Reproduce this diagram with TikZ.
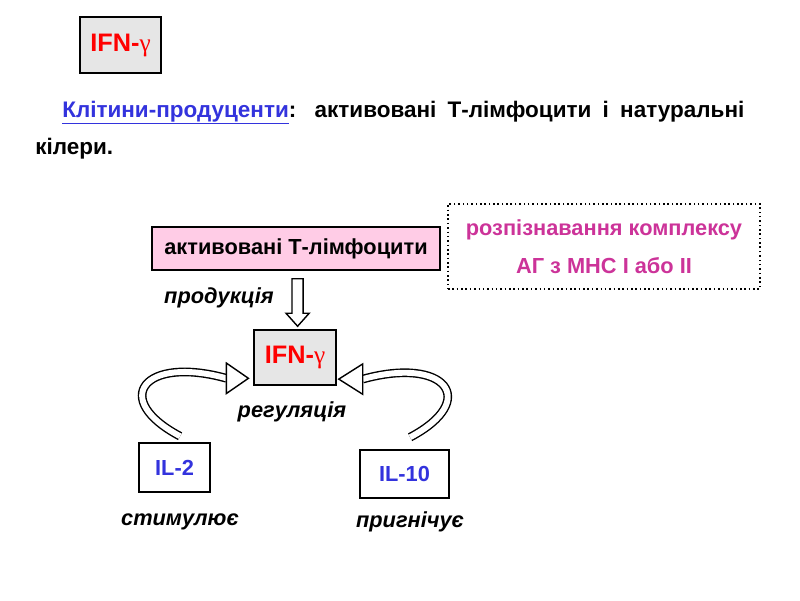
\documentclass[tikz,border=0pt]{standalone}
\usepackage{fontspec}
\setmainfont{Liberation Sans}
\newfontfamily\greekfont{Liberation Serif}
\usepackage{xcolor}
\usepackage{tikz}
\usetikzlibrary{calc}

\definecolor{cellpink}{RGB}{255,204,230}
\definecolor{cellgray}{RGB}{230,230,230}
\definecolor{ilblue}{RGB}{51,51,221}
\definecolor{agmagenta}{RGB}{204,51,153}

\newcommand{\ifng}{IFN-{\greekfont\mdseries γ}}

\begin{document}
\begin{tikzpicture}[every node/.style={font=\bfseries\fontsize{15.5}{19}\selectfont},
    box/.style={draw, rectangle, line width=1.1pt, inner sep=0pt, text centered},
    lbl/.style={font=\bfseries\itshape\fontsize{15.5}{19}\selectfont},
    band/.style={double=white, double distance=4.2pt, line width=1pt},
    head/.style={draw, fill=white, line width=1pt, line join=miter}]

    \useasboundingbox (0,0) rectangle (20,-15);

    % Define nodes
    \node (topifn) [box, fill=cellgray, minimum width=2.025cm, minimum height=1.4cm,
        text=red, font=\bfseries\fontsize{18}{20}\selectfont] at (3.0125,-1.125) {\ifng};

    \node (cells) [anchor=base west, text width=17.725cm, align=justify, inner sep=0pt,
        font=\bfseries\fontsize{16}{27}\selectfont] at (0.875,-2.925) {
        \hspace*{0.675cm}\textcolor{ilblue}{\underline{Клітини-продуценти}}: активовані Т-лімфоцити і натуральні\linebreak
        кілери.
    };

    \node (tcells) [box, fill=cellpink, minimum width=7.2cm, minimum height=1.075cm] at (7.4,-6.2125) {активовані Т-лімфоцити};

    \node (recog) [draw, dotted, line width=1.1pt, minimum width=7.8cm, minimum height=2.125cm,
        text=agmagenta, align=center, font=\bfseries\fontsize{15.5}{27}\selectfont] at (15.1,-6.1625) {
        розпізнавання комплексу \\
        АГ з МНС І або ІІ
    };

    \node (ifn) [box, fill=cellgray, minimum width=2.05cm, minimum height=1.375cm,
        text=red, font=\bfseries\fontsize{18}{20}\selectfont] at (7.375,-8.9375) {\ifng};

    \node (il2) [box, minimum width=1.775cm, minimum height=1.225cm, text=ilblue] at (4.3625,-11.6875) {IL-2};
    \node (il10) [box, minimum width=2.225cm, minimum height=1.2cm, text=ilblue] at (10.1125,-11.85) {IL-10};

    \node (prod) [lbl] at (5.475,-7.45) {продукція};
    \node (regul) [lbl] at (7.3,-10.3) {регуляція};
    \node (stim) [lbl] at (4.5,-13.05) {стимулює};
    \node (supp) [lbl] at (10.25,-13.05) {пригнічує};

    % Define connections
    \coordinate (dtop) at ([xshift=0.04cm,yshift=-0.2cm]tcells.south);
    \coordinate (dtip) at (dtop |- ifn.north);
    \draw[head] ($(dtop)+(-0.14,0)$) -- ($(dtip)+(-0.14,0.4)$) -- ($(dtip)+(-0.29,0.4)$)
        -- ($(dtip)+(0,0.075)$) -- ($(dtip)+(0.29,0.4)$) -- ($(dtip)+(0.14,0.4)$)
        -- ($(dtop)+(0.14,0)$) -- cycle;

    \coordinate (ltip) at ([xshift=-0.12cm,yshift=-0.52cm]ifn.west);
    \coordinate (lbase) at ([xshift=-0.55cm]ltip);
    \draw[band] ([xshift=0.14cm,yshift=0.15cm]il2.north) .. controls +(-1.75,0.925) and +(-2.075,0.575) .. (lbase);
    \draw[head] ([yshift=0.38cm]lbase) -- (ltip) -- ([yshift=-0.38cm]lbase) -- cycle;

    \coordinate (rtip) at ([xshift=0.05cm,yshift=-0.54cm]ifn.east);
    \coordinate (rbase) at ([xshift=0.6cm]rtip);
    \draw[band] ([xshift=0.14cm,yshift=0.3cm]il10.north) .. controls +(1.75,0.925) and +(2.075,0.575) .. (rbase);
    \draw[head] ([yshift=0.38cm]rbase) -- (rtip) -- ([yshift=-0.38cm]rbase) -- cycle;

\end{tikzpicture}
\end{document}
